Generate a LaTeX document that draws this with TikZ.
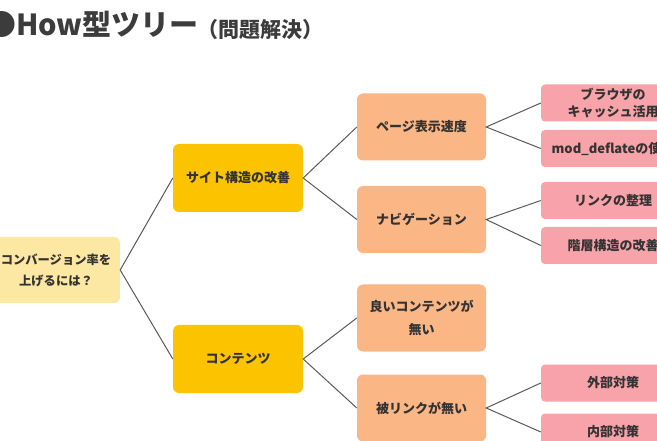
\documentclass[tikz,border=0pt]{standalone}
\usepackage{fontspec}
\setmainfont{Noto Sans CJK JP}
\definecolor{raizfill}{HTML}{FCE8A2}
\definecolor{unofill}{HTML}{FCC300}
\definecolor{dosfill}{HTML}{FAB685}
\definecolor{tresfill}{HTML}{F8A2AA}
\definecolor{linea}{HTML}{5A5A5A}
\definecolor{titulo}{HTML}{3C3C3C}
\begin{document}
\begin{tikzpicture}[x=1pt, y=-1pt]
        \tikzstyle{caja}=[rounded corners=6pt, align=center, inner sep=0pt, text=black!80, font=\fontsize{13}{21}\selectfont\bfseries]
        \tikzstyle{raiz}=[caja, fill=raizfill, minimum width=128pt, minimum height=66pt, font=\fontsize{12.3}{21}\selectfont\bfseries]
        \tikzstyle{nivel1}=[caja, fill=unofill, minimum width=130pt, minimum height=68pt]
        \tikzstyle{nivel2}=[caja, fill=dosfill, minimum width=129pt, minimum height=67pt, font=\fontsize{13}{23}\selectfont\bfseries]
        \tikzstyle{nivel3}=[caja, fill=tresfill, rounded corners=4pt, minimum width=144pt, minimum height=37pt, font=\fontsize{13}{16.5}\selectfont\bfseries]
        \tikzstyle{rama}=[draw=linea, line width=1pt]

        \useasboundingbox (0,0) rectangle (657,441);
        \clip (0,0) rectangle (657,441);

        % titulo
        \node[anchor=base west, inner sep=0pt, text=titulo, font=\fontsize{29}{29}\selectfont\bfseries] (titulo) at (-13,36) {●How型ツリー};
        \node[anchor=base west, inner sep=0pt, text=titulo, font=\fontsize{21}{21}\selectfont\bfseries] (subtitulo) at (197,38) {（問題解決）};

        % arbol
        \node[raiz] (raiz) at (56,270) {コンバージョン率を\\上げるには？};

        \node[nivel1] (sitio) at (238,178) {サイト構造の改善};
        \node[nivel1] (contenido) at (238,359) {コンテンツ};

        \node[nivel2] (velocidad) at (421.5,127) {ページ表示速度};
        \node[nivel2] (navegacion) at (421.5,219.5) {ナビゲーション};
        \node[nivel2] (buenos) at (421.5,318) {良いコンテンツが\\無い};
        \node[nivel2] (enlaces) at (421.5,408) {被リンクが無い};

        \node[nivel3] (cache) at (613,103) {ブラウザの\\キャッシュ活用};
        \node[nivel3] (deflate) at (613,148.5) {mod\_deflateの使用};
        \node[nivel3] (orden) at (613,200.5) {リンクの整理};
        \node[nivel3] (jerarquia) at (613,245.5) {階層構造の改善};
        \node[nivel3] (externo) at (613,383) {外部対策};
        \node[nivel3] (interno) at (613,432) {内部対策};

        % ramas
        \draw[rama] (sitio.west) -- (raiz.east) -- (contenido.west);
        \draw[rama] (velocidad.west) -- (sitio.east) -- (navegacion.west);
        \draw[rama] (buenos.west) -- (contenido.east) -- (enlaces.west);
        \draw[rama] (cache.west) -- (velocidad.east) -- (deflate.west);
        \draw[rama] (orden.west) -- (navegacion.east) -- (jerarquia.west);
        \draw[rama] (externo.west) -- (enlaces.east) -- (interno.west);
    \end{tikzpicture}
\end{document}
